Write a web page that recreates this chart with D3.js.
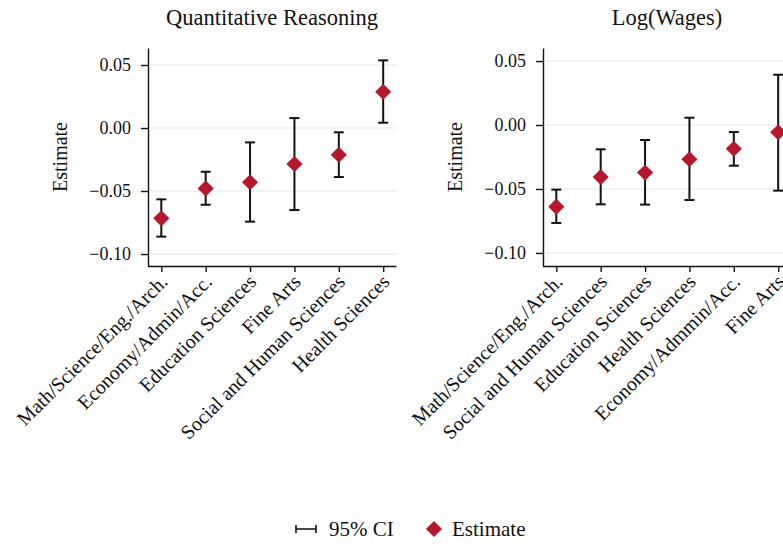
<!DOCTYPE html>
<html>
<head>
<meta charset="utf-8">
<script src="https://cdn.jsdelivr.net/npm/d3@7"></script>
<style>
  body { margin: 0; background: #fff; }
  text { font-family: "Liberation Serif", "Times New Roman", serif; fill: #111; }
</style>
</head>
<body>
<div id="chart"></div>
<script>
// Data for each panel
var qrCategories = ["Math/Science/Eng./Arch.", "Economy/Admin/Acc.", "Education Sciences", "Fine Arts", "Social and Human Sciences", "Health Sciences"];
var qrEstimate = [-0.0717, -0.0479, -0.0431, -0.0286, -0.0212, 0.0288];
var qrLower = [-0.0862, -0.0609, -0.0743, -0.0651, -0.0389, 0.0042];
var qrUpper = [-0.0566, -0.0347, -0.0114, 0.0079, -0.0034, 0.0537];

var wageCategories = ["Math/Science/Eng./Arch.", "Social and Human Sciences", "Education Sciences", "Health Sciences", "Economy/Admmin/Acc.", "Fine Arts"];
var wageEstimate = [-0.0638, -0.0406, -0.0372, -0.0268, -0.0185, -0.0057];
var wageLower = [-0.0766, -0.0620, -0.0622, -0.0586, -0.0318, -0.0513];
var wageUpper = [-0.0505, -0.0190, -0.0117, 0.0057, -0.0055, 0.0393];

var yTicks = [0.05, 0, -0.05, -0.10];

// Set svg height and width
var svgWidth = 783;
var svgHeight = 545;

var svg = d3.select("#chart")
    .append("svg")
    .attr("width", svgWidth)
    .attr("height", svgHeight);

var red = "#b5172d";
var fmt = d3.format(".2f");
var diamond = d3.symbol().type(d3.symbolDiamond2).size(165);

function drawPanel(opts) {
    var x = d3.scalePoint()
        .domain(opts.categories)
        .range([opts.left, opts.left + 248.5])
        .padding(0.3);

    var y = d3.scaleLinear()
        .domain(opts.yDomain)
        .range([266, 48]);

    var g = svg.append("g");

    // gridlines
    g.selectAll("line.grid")
        .data(yTicks)
        .enter()
        .append("line")
        .attr("class", "grid")
        .attr("x1", opts.left)
        .attr("x2", opts.left + 248.5)
        .attr("y1", d => y(d))
        .attr("y2", d => y(d))
        .style("stroke", "#e8f0f2")
        .style("stroke-width", 1.5);

    // left axis
    var leftAxis = d3.axisLeft(y)
        .tickValues(yTicks)
        .tickSize(7)
        .tickSizeOuter(0)
        .tickPadding(10)
        .tickFormat(d => fmt(d).replace("-", "\u2212"));

    var ly = g.append("g")
        .attr("transform", `translate(${opts.left}, 0)`)
        .call(leftAxis);
    ly.selectAll("text").style("font-size", "18px").style("font-family", "Liberation Serif");
    ly.selectAll("line, path").style("stroke", "#111").style("stroke-width", 1.4);

    // bottom axis
    var bottomAxis = d3.axisBottom(x)
        .tickSize(6)
        .tickSizeOuter(0)
        .tickPadding(4);

    var bx = g.append("g")
        .attr("transform", `translate(0, 266)`)
        .call(bottomAxis);
    bx.selectAll("line, path").style("stroke", "#111").style("stroke-width", 1.4);
    bx.select("path.domain").attr("d", `M${opts.left},0.5H${opts.left + 248.5}`);
    bx.selectAll("text")
        .style("font-size", "20px")
        .style("font-family", "Liberation Serif")
        .style("text-anchor", "end")
        .attr("x", 0)
        .attr("y", 0)
        .attr("dy", 0)
        .attr("transform", "translate(7, 17) rotate(-45)");

    // error bars
    var bars = g.append("g");
    opts.categories.forEach(function (c, i) {
        var cx = x(c);
        bars.append("line")
            .attr("x1", cx).attr("x2", cx)
            .attr("y1", y(opts.upper[i])).attr("y2", y(opts.lower[i]))
            .style("stroke", "#111").style("stroke-width", 2);
        [opts.upper[i], opts.lower[i]].forEach(function (v) {
            bars.append("line")
                .attr("x1", cx - 5).attr("x2", cx + 5)
                .attr("y1", y(v)).attr("y2", y(v))
                .style("stroke", "#111").style("stroke-width", 2);
        });
    });

    // diamonds
    g.selectAll("path.est")
        .data(opts.estimate)
        .enter()
        .append("path")
        .attr("class", "est")
        .attr("d", diamond)
        .attr("transform", (d, i) => `translate(${x(opts.categories[i])}, ${y(d)})`)
        .style("fill", red);

    // title
    g.append("text")
        .attr("x", opts.left + 124)
        .attr("y", 25)
        .attr("text-anchor", "middle")
        .style("font-size", "22.5px")
        .text(opts.title);

    // y label
    g.append("text")
        .attr("transform", `translate(${opts.left - 81}, 157) rotate(-90)`)
        .attr("text-anchor", "middle")
        .style("font-size", "20px")
        .text("Estimate");
}

drawPanel({
    left: 148,
    categories: qrCategories,
    estimate: qrEstimate,
    lower: qrLower,
    upper: qrUpper,
    yDomain: [-0.1095, 0.0635],
    title: "Quantitative Reasoning"
});

drawPanel({
    left: 543,
    categories: wageCategories,
    estimate: wageEstimate,
    lower: wageLower,
    upper: wageUpper,
    yDomain: [-0.1102, 0.0602],
    title: "Log(Wages)"
});

// legend
var legend = svg.append("g");
legend.append("path")
    .attr("d", "M296,525V533M296,529H316M316,525V533")
    .style("stroke", "#111")
    .style("stroke-width", 1.6)
    .style("fill", "none");
legend.append("text")
    .attr("x", 329)
    .attr("y", 536)
    .style("font-size", "21px")
    .text("95% CI");
legend.append("path")
    .attr("d", diamond)
    .attr("transform", "translate(434, 529)")
    .style("fill", red);
legend.append("text")
    .attr("x", 452)
    .attr("y", 536)
    .style("font-size", "21px")
    .text("Estimate");
</script>
</body>
</html>
